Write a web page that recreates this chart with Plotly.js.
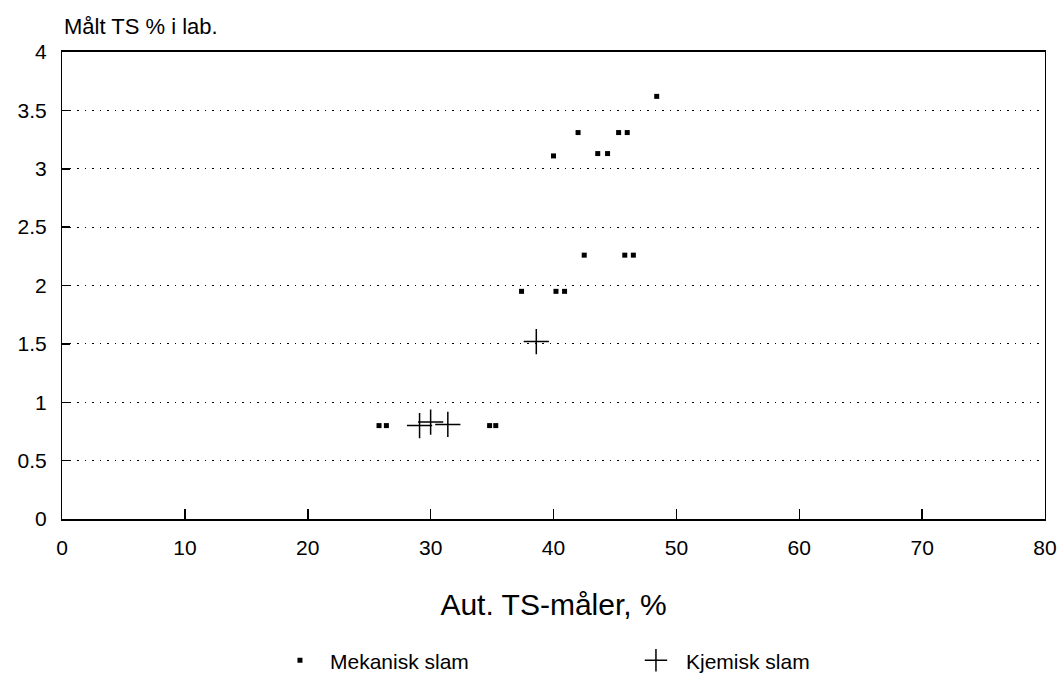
<!DOCTYPE html>
<html>
<head>
<meta charset="utf-8">
<script src="https://cdn.plot.ly/plotly-3.0.1.min.js"></script>
<style>html,body{margin:0;padding:0;background:#fff;}#chart{width:1062px;height:679px;}</style>
</head>
<body>
<div id="chart"></div>
<script>
// Mekanisk slam (small filled markers)
const mekX = [48.4, 42.0, 45.3, 46.0, 40.0, 43.6, 44.4, 42.5, 45.8, 46.5, 37.4, 40.2, 40.9, 25.8, 26.4, 34.8, 35.3];
const mekY = [3.62, 3.31, 3.31, 3.31, 3.11, 3.13, 3.13, 2.26, 2.26, 2.26, 1.95, 1.95, 1.95, 0.80, 0.80, 0.80, 0.80];
// Kjemisk slam (plus markers)
const kjeX = [38.6, 29.1, 30.0, 31.4];
const kjeY = [1.52, 0.80, 0.83, 0.81];

const xTicks = [0, 10, 20, 30, 40, 50, 60, 70, 80];
const yTicks = [0, 0.5, 1, 1.5, 2, 2.5, 3, 3.5, 4];
const yTickText = ['0', '0.5', '1', '1.5', '2', '2.5', '3', '3.5', '4'];

const xTitle = 'Aut. TS-måler, %';
const yTitle = 'Målt TS % i lab.';
const seriesNames = ['Mekanisk slam', 'Kjemisk slam'];

const font = 'Liberation Sans, Arial, sans-serif';

const traces = [
  {
    x: mekX, y: mekY, type: 'scatter', mode: 'markers', name: seriesNames[0],
    marker: {symbol: 'square', size: 5, color: '#000'}
  },
  {
    x: kjeX, y: kjeY, type: 'scatter', mode: 'markers', name: seriesNames[1],
    marker: {symbol: 'cross-thin-open', size: 18, color: '#000', line: {color: '#000', width: 1.5}}
  }
];

const layout = {
  width: 1062, height: 679,
  margin: {l: 62, r: 17, t: 52, b: 160, autoexpand: false},
  paper_bgcolor: '#fff', plot_bgcolor: '#fff',
  font: {family: font, color: '#000', size: 21},
  showlegend: true,
  legend: {
    orientation: 'h', xref: 'container', yref: 'container',
    x: 0.2542, xanchor: 'left', y: 0.027, yanchor: 'middle',
    font: {family: font, size: 21, color: '#000'},
    entrywidth: 291, entrywidthmode: 'pixels', itemwidth: 50, tracegroupgap: 0
  },
  xaxis: {
    range: [0, 80], tickvals: xTicks, ticktext: xTicks.map(String),
    ticks: 'inside', ticklen: 10, tickwidth: 1.5, tickcolor: '#000',
    showline: true, linecolor: '#000', linewidth: 2, mirror: true,
    showgrid: false, zeroline: false, ticklabelstandoff: 9,
    tickfont: {family: font, size: 21, color: '#000'},
    title: {text: xTitle, font: {family: font, size: 30, color: '#000'}, standoff: 36}
  },
  yaxis: {
    range: [0, 4], tickvals: yTicks, ticktext: yTickText,
    ticks: 'inside', ticklen: 8, tickwidth: 1.5, tickcolor: '#000',
    showline: true, linecolor: '#000', linewidth: 1, mirror: true,
    showgrid: true, gridcolor: '#000', gridwidth: 1, griddash: '1.5px,6px',
    zeroline: false, ticklabelstandoff: 10,
    tickfont: {family: font, size: 21, color: '#000'}
  },
  annotations: [{
    text: yTitle, xref: 'paper', yref: 'paper', x: 0, y: 1, xanchor: 'left', yanchor: 'bottom',
    yshift: 11, showarrow: false, font: {family: font, size: 22, color: '#000'}
  }]
};

Plotly.newPlot('chart', traces, layout, {displayModeBar: false, staticPlot: true});
</script>
</body>
</html>
